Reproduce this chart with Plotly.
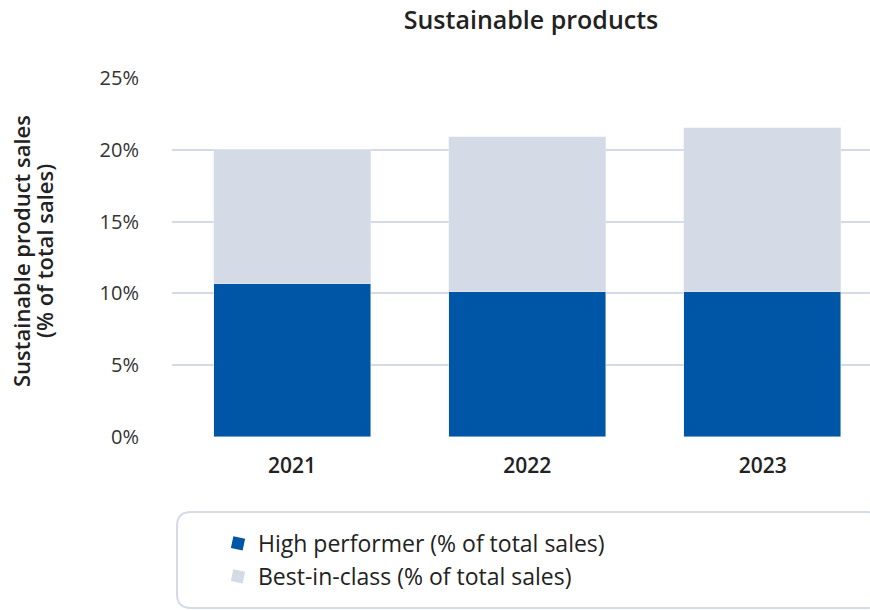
import plotly.graph_objects as go

# Sustainable product sales, share of total sales (%)
years = ["2021", "2022", "2023"]
high_performer = [10.65, 10.1, 10.1]
best_in_class = [9.35, 10.8, 11.4]
y_ticks = [0, 5, 10, 15, 20, 25]
y_tick_labels = ["0%", "5%", "10%", "15%", "20%", "25%"]
y_title_lines = ["Sustainable product sales", "(% of total sales)"]

DARK = "#0056a6"
LIGHT = "#d5dbe6"
FONT = "'Open Sans', sans-serif"

W, H = 870, 610
L, R, T, B = 172, 0, 78, 173

fig = go.Figure()
x_idx = list(range(len(years)))
fig.add_trace(go.Bar(x=x_idx, y=high_performer, marker_color=DARK, width=0.667,
                     showlegend=False, hoverinfo="y"))
fig.add_trace(go.Bar(x=x_idx, y=best_in_class, marker_color=LIGHT, width=0.667,
                     showlegend=False, hoverinfo="y"))

# legend entries with tilted square swatches
fig.add_trace(go.Scatter(x=[None], y=[None], mode="markers", name="High performer (% of total sales)",
                         legendgroup="hp",
                         marker=dict(symbol="square", size=18, color=DARK, angle=12)))
fig.add_trace(go.Scatter(x=[None], y=[None], mode="markers", name="Best-in-class (% of total sales)",
                         legendgroup="bic",
                         marker=dict(symbol="square", size=18, color=LIGHT, angle=12)))

pw = W - L - R
ph = H - T - B

def px_x(px):
    return (px - L) / pw

def px_y(py):
    return (H - B - py) / ph

# rounded legend frame
x0, x1, y0, y1, r = 177, 880, 512, 608, 14
path = (f"M {x0 + r},{y0} L {x1 - r},{y0} Q {x1},{y0} {x1},{y0 + r} L {x1},{y1 - r} "
        f"Q {x1},{y1} {x1 - r},{y1} L {x0 + r},{y1} Q {x0},{y1} {x0},{y1 - r} "
        f"L {x0},{y0 + r} Q {x0},{y0} {x0 + r},{y0} Z")

def conv(path):
    out = []
    for tok in path.split(" "):
        if "," in tok:
            a, b = tok.split(",")
            out.append(f"{px_x(float(a)):.5f},{px_y(float(b)):.5f}")
        else:
            out.append(tok)
    return " ".join(out)

fig.add_shape(type="path", xref="paper", yref="paper", path=conv(path),
              line=dict(color=LIGHT, width=2), fillcolor="rgba(0,0,0,0)", layer="below")

# two-line rotated y-axis title, set with tight line spacing
for i, line in enumerate(y_title_lines):
    fig.add_annotation(text=line, xref="paper", yref="paper", x=px_x(21 + 23 * i), y=px_y(251),
                       xanchor="center", yanchor="middle", textangle=-90, showarrow=False,
                       font=dict(family=FONT, size=22, color="#222222", weight=600))

fig.update_layout(
    width=W, height=H,
    margin=dict(l=L, r=R, t=T, b=B),
    barmode="stack",
    bargap=0,
    plot_bgcolor="white", paper_bgcolor="white",
    font=dict(family=FONT, size=20, color="#333333"),
    title=dict(text="Sustainable products", x=px_x(531), xref="paper", xanchor="center",
               y=1 - 20 / H, yanchor="middle",
               font=dict(family=FONT, size=25, color="#222222", weight=600)),
    xaxis=dict(range=[-0.51, 2.456], tickvals=x_idx, ticktext=years, showgrid=False,
               zeroline=False, showline=False, ticks="", ticklabelstandoff=14,
               tickfont=dict(size=21, color="#222222", weight=600)),
    yaxis=dict(range=[0, 25], tickvals=y_ticks, ticktext=y_tick_labels,
               showgrid=True, gridcolor=LIGHT, gridwidth=2, zeroline=False,
               ticks="", ticklabelstandoff=32, layer="below traces",
               tickfont=dict(size=20, color="#333333")),
    legend=dict(x=px_x(218), y=px_y(522), xanchor="left", yanchor="top",
                bgcolor="rgba(0,0,0,0)", font=dict(size=23, color="#222222"),
                itemsizing="constant", tracegroupgap=11, traceorder="normal"),
    showlegend=True,
)

fig.write_html("out.html")
